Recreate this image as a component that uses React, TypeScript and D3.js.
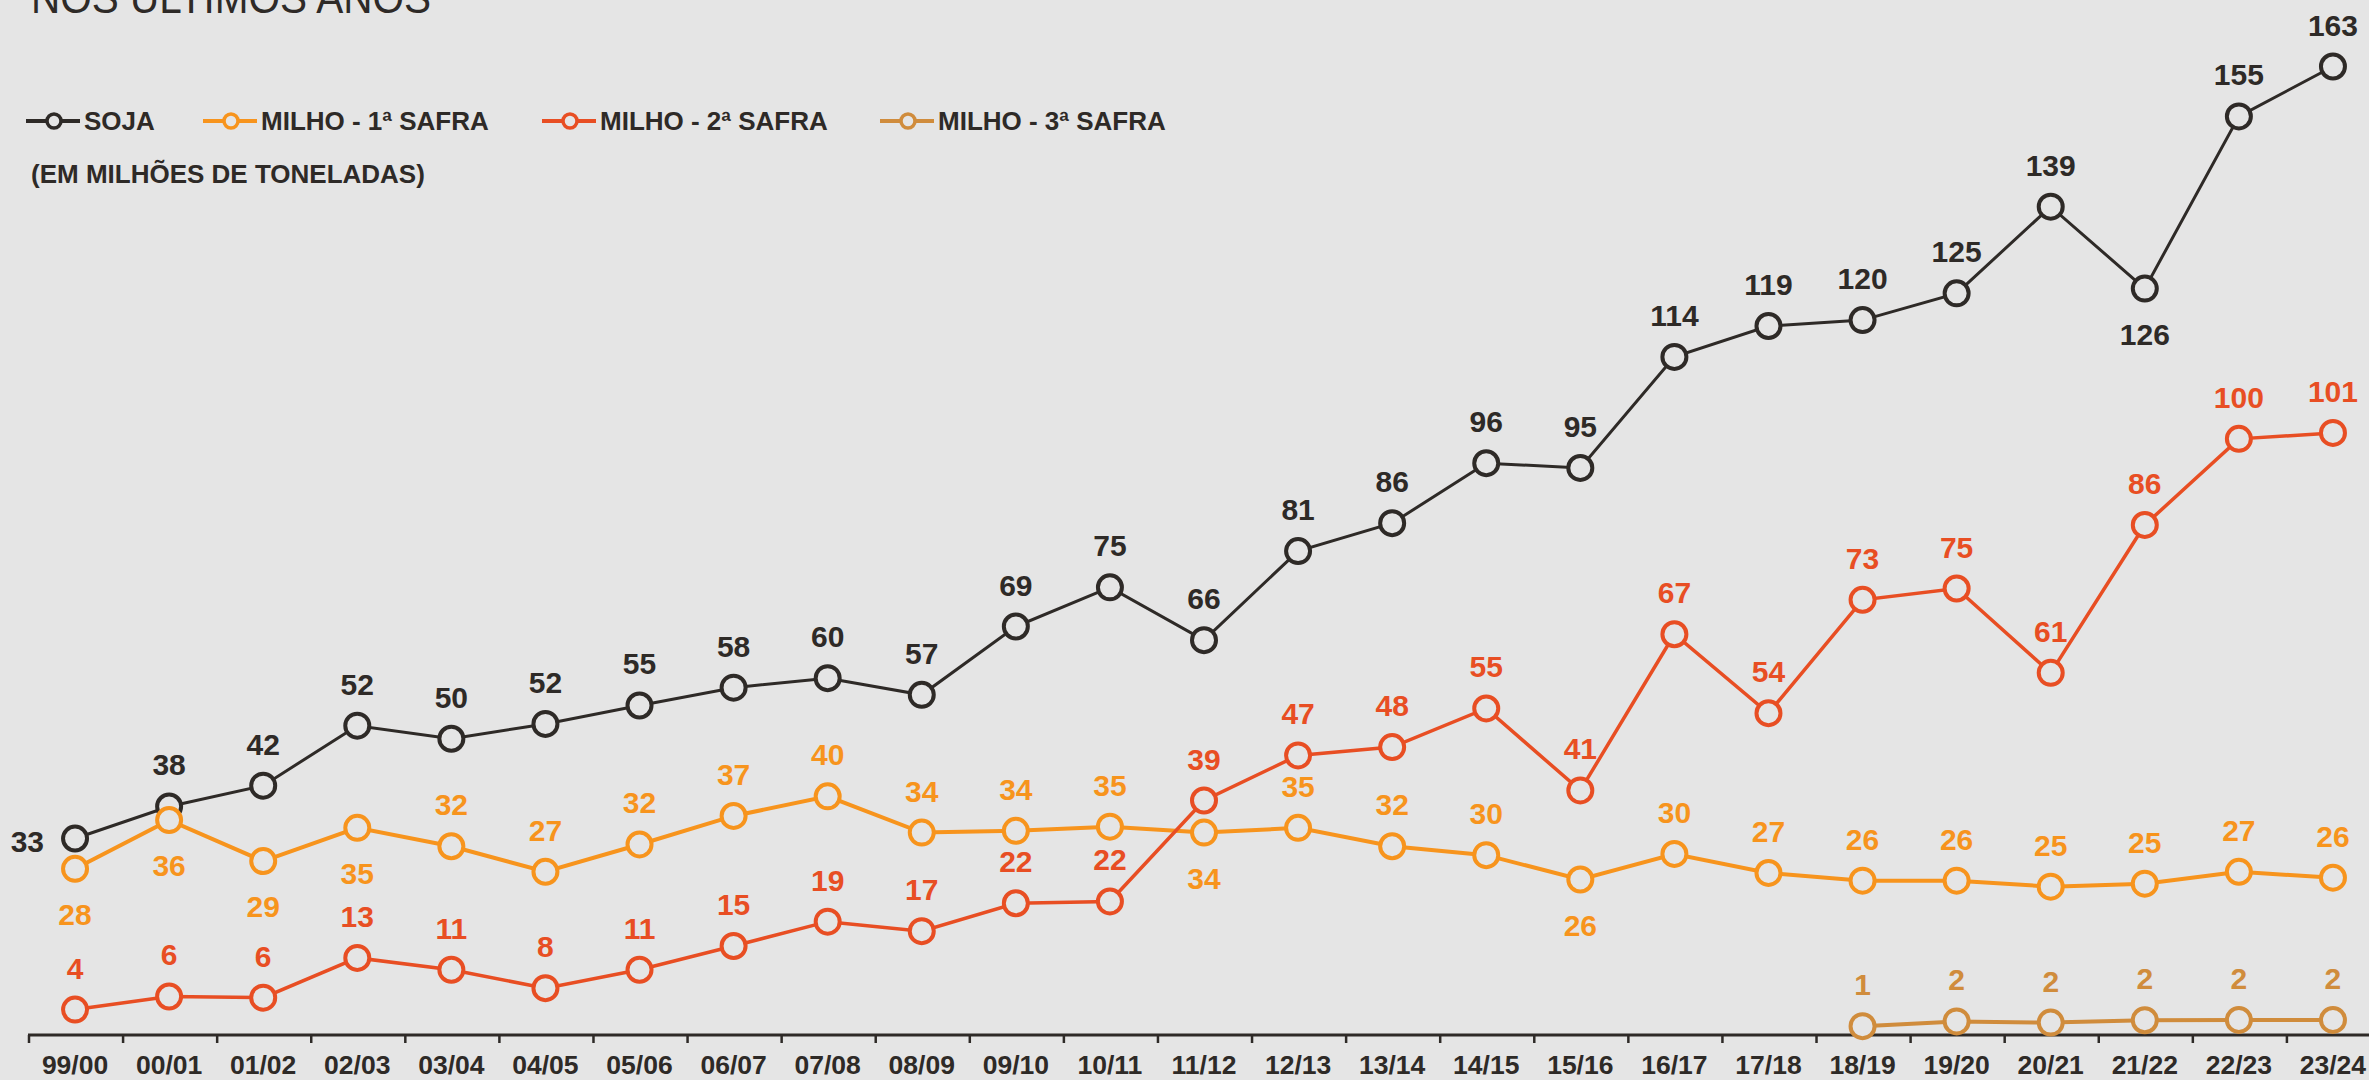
import React, { useEffect } from 'react';
import * as d3 from 'd3';

// seasons (x categories)
const seasons = [
  '99/00', '00/01', '01/02', '02/03', '03/04', '04/05', '05/06', '06/07', '07/08', '08/09',
  '09/10', '10/11', '11/12', '12/13', '13/14', '14/15', '15/16', '16/17', '17/18', '18/19',
  '19/20', '20/21', '21/22', '22/23', '23/24',
];

// production in millions of tonnes
const soja = [33.0, 38.4, 41.9, 52.0, 49.8, 52.3, 55.4, 58.4, 60.0, 57.2, 68.7, 75.3, 66.4, 81.4, 86.1, 96.2, 95.4, 114.1, 119.3, 120.3, 124.8, 139.4, 125.6, 154.6, 163.0];
const milho1 = [27.9, 36.1, 29.2, 34.8, 31.7, 27.4, 32.0, 36.8, 40.1, 34.0, 34.3, 35.0, 34.0, 34.8, 31.7, 30.2, 26.1, 30.4, 27.2, 25.9, 25.9, 24.9, 25.4, 27.4, 26.4];
const milho2 = [4.2, 6.4, 6.2, 12.9, 10.9, 7.8, 10.9, 14.9, 19.0, 17.4, 22.1, 22.4, 39.4, 47.0, 48.4, 54.9, 41.1, 67.4, 54.1, 73.2, 75.1, 60.9, 85.8, 100.3, 101.3];
const milho3: (number | null)[] = [null, null, null, null, null, null, null, null, null, null, null, null, null, null, null, null, null, null, null, 1.4, 2.2, 2.0, 2.4, 2.45, 2.45];

// where each value label sits: a = above, b = below, l = left
const sojaLabelPos = ['l', 'a', 'a', 'a', 'a', 'a', 'a', 'a', 'a', 'a', 'a', 'a', 'a', 'a', 'a', 'a', 'a', 'a', 'a', 'a', 'a', 'a', 'b', 'a', 'a'];
const milho1LabelPos = ['b', 'b', 'b', 'b', 'a', 'a', 'a', 'a', 'a', 'a', 'a', 'a', 'b', 'a', 'a', 'a', 'b', 'a', 'a', 'a', 'a', 'a', 'a', 'a', 'a'];

const BG = '#e5e5e5';
const DARK = '#2e2a27';
const FONT = "'Liberation Sans', Arial, Helvetica, sans-serif";

const series = [
  { name: 'SOJA', values: soja, color: DARK, width: 3, pos: sojaLabelPos },
  { name: 'MILHO - 1ª SAFRA', values: milho1, color: '#f7941d', width: 4, pos: milho1LabelPos },
  { name: 'MILHO - 2ª SAFRA', values: milho2, color: '#e84e23', width: 3.5, pos: null },
  { name: 'MILHO - 3ª SAFRA', values: milho3, color: '#d08c3c', width: 4, pos: null },
];

const legendX = [26, 203, 542, 880];

const W = 2369;
const H = 1080;

const App = () => {
  useEffect(() => {
    document.body.style.margin = '0';
    document.body.style.background = BG;
  }, []);

  const x = d3.scaleBand<string>().domain(seasons).range([28, 28 + 25 * 94.08]).padding(0);
  const y = d3.scaleLinear().domain([0, 163]).range([1034.5, 66.5]);
  const cx = (i: number) => (x(seasons[i]) as number) + x.bandwidth() / 2;

  const line = d3.line<number | null>()
    .defined(d => d != null)
    .x((_, i) => cx(i))
    .y(d => y(d as number));

  return (
    <svg width={W} height={H} style={{ display: 'block', position: 'absolute', left: 0, top: 0, background: BG }}>
      <rect width={W} height={H} fill={BG} />
      {/* title, cut off at the top */}
      <text x={31} y={13} fontFamily={FONT} fontSize={44} fill="#2e2a27" textLength={400} lengthAdjust="spacingAndGlyphs">NOS ÚLTIMOS ANOS</text>

      {/* legend */}
      {series.map((s, i) => (
        <g key={s.name} transform={`translate(${legendX[i]},121)`}>
          <line x1={0} x2={54} y1={0} y2={0} stroke={s.color} strokeWidth={4} />
          <circle cx={28} cy={0} r={7} fill={BG} stroke={s.color} strokeWidth={3.5} />
          <text x={58} y={9} fontFamily={FONT} fontWeight="bold" fontSize={26} fill={DARK}>{s.name}</text>
        </g>
      ))}
      <text x={31} y={183} fontFamily={FONT} fontWeight="bold" fontSize={26} fill={DARK}>(EM MILHÕES DE TONELADAS)</text>

      {/* x axis */}
      <line x1={28} x2={W} y1={1035} y2={1035} stroke={DARK} strokeWidth={3} />
      {seasons.map((s) => (
        <line key={'t' + s} x1={(x(s) as number) + 1} x2={(x(s) as number) + 1} y1={1035} y2={1043} stroke={DARK} strokeWidth={2.5} />
      ))}
      {seasons.map((s, i) => (
        <text key={'l' + s} x={cx(i)} y={1074} textAnchor="middle" fontFamily={FONT} fontWeight="bold" fontSize={26.5} fill={DARK}>{s}</text>
      ))}

      {/* lines and markers */}
      {series.map(s => (
        <g key={'s' + s.name}>
          <path d={line(s.values) || ''} fill="none" stroke={s.color} strokeWidth={s.width} />
          {s.values.map((v, i) => v == null ? null : (
            <circle key={i} cx={cx(i)} cy={y(v)} r={12} fill={BG} stroke={s.color} strokeWidth={4} />
          ))}
        </g>
      ))}

      {/* value labels */}
      {series.map(s => (
        <g key={'v' + s.name} fontFamily={FONT} fontWeight="bold" fontSize={30} fill={s.color}>
          {s.values.map((v, i) => {
            if (v == null) return null;
            const p = s.pos ? s.pos[i] : 'a';
            const px = cx(i);
            const py = y(v);
            if (p === 'l') return <text key={i} x={px - 31} y={py + 13} textAnchor="end">{Math.round(v)}</text>;
            if (p === 'b') return <text key={i} x={px} y={py + 56} textAnchor="middle">{Math.round(v)}</text>;
            return <text key={i} x={px} y={py - 31} textAnchor="middle">{Math.round(v)}</text>;
          })}
        </g>
      ))}
    </svg>
  );
};

export default App;
